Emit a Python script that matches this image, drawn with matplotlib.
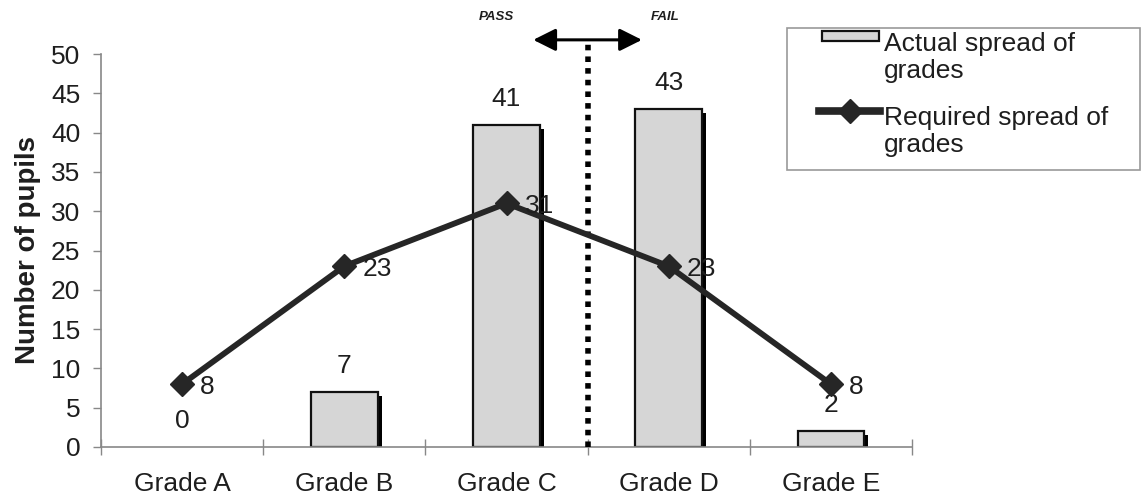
import matplotlib
matplotlib.use("Agg")
import matplotlib.pyplot as plt
import matplotlib.patheffects as pe
from matplotlib.patches import Rectangle
from matplotlib.lines import Line2D

plt.rcParams['font.family'] = ['Liberation Sans', 'DejaVu Sans']

# Data
grades = ["Grade A", "Grade B", "Grade C", "Grade D", "Grade E"]
actual = [0, 7, 41, 43, 2]
required = [8, 23, 31, 23, 8]
actual_label = "Actual spread of\ngrades"
required_label = "Required spread of\ngrades"
y_ticks = [0, 5, 10, 15, 20, 25, 30, 35, 40, 45, 50]

W, H = 1142, 499
fig = plt.figure(figsize=(W / 100, H / 100), dpi=100)
fig.patch.set_facecolor("white")

def fx(px):
    return px / W

def fy(py):
    return 1 - py / H

ax = fig.add_axes([fx(101), fy(447), fx(912) - fx(101), fy(54) - fy(447)])
ax.set_facecolor("white")

text_col = "#1e1e1e"
bar_col = "#d6d6d6"
line_col = "#262626"
fs = 19

x = list(range(len(grades)))

bars = ax.bar(x, actual, width=0.41, color=bar_col, edgecolor="#111111",
              linewidth=1.6, zorder=2,
              path_effects=[pe.SimplePatchShadow(offset=(3, -3), shadow_rgbFace="black",
                                                 alpha=1.0),
                            pe.Normal()])
ax.bar_label(bars, labels=[str(v) for v in actual], padding=10,
             fontsize=fs, color=text_col)
for b, v in zip(bars, actual):
    if v == 0:
        b.set_visible(False)

ax.plot(x, required, color=line_col, linewidth=4.2, marker="D", markersize=12,
        markerfacecolor=line_col, markeredgecolor=line_col, zorder=4)
for xi, v in zip(x, required):
    ax.annotate(str(v), (xi, v), xytext=(13, 0), textcoords="offset points",
                ha="left", va="center_baseline", fontsize=fs, color=text_col, zorder=5)

ax.set_xlim(-0.5, len(grades) - 0.5)
ax.set_ylim(0, 50)
ax.set_yticks(y_ticks)
ax.set_yticklabels([str(t) for t in y_ticks], fontsize=fs, color=text_col)
ax.tick_params(axis="y", direction="out", length=6, width=1, color="#888888", pad=9)

ax.set_xticks(x)
ax.set_xticklabels(grades, fontsize=fs, color=text_col)
ax.tick_params(axis="x", which="major", length=0, pad=18)
ax.set_xticks([i - 0.5 for i in range(len(grades) + 1)], minor=True)
ax.tick_params(axis="x", which="minor", direction="inout", length=12, width=1,
               color="#888888")

for side in ("top", "right"):
    ax.spines[side].set_visible(False)
for side in ("left", "bottom"):
    ax.spines[side].set_color("#888888")
    ax.spines[side].set_linewidth(1.2)

ax.set_ylabel("Number of pupils", fontsize=20, fontweight="bold", color=text_col,
              va="center")
ax.yaxis.set_label_coords((28 - 101) / (912 - 101), 0.5)

# Pass / fail divider with double arrow
divider_x = 2.5
top_y = 51.8
ax.plot([divider_x, divider_x], [0, top_y], color="black", linewidth=4,
        linestyle=(0, (1, 1.1)), dash_capstyle="butt", clip_on=False, zorder=3)
ax.annotate("", xy=(divider_x - 0.335, top_y), xytext=(divider_x + 0.335, top_y),
            arrowprops=dict(arrowstyle="<|-|>", color="black", lw=2.2,
                            mutation_scale=34, shrinkA=0, shrinkB=0),
            annotation_clip=False)
ax.text(1.94, 54.7, "PASS", fontsize=9.5, fontweight="bold", fontstyle="italic",
        ha="center", va="center", color=text_col, clip_on=False)
ax.text(2.98, 54.7, "FAIL", fontsize=9.5, fontweight="bold", fontstyle="italic",
        ha="center", va="center", color=text_col, clip_on=False)

# Legend box
fig.add_artist(Rectangle((fx(787), fy(170)), fx(1140) - fx(787), fy(28) - fy(170),
                         transform=fig.transFigure, facecolor="white",
                         edgecolor="#999999", linewidth=1.2))
fig.add_artist(Rectangle((fx(822), fy(41)), fx(879) - fx(822), fy(31) - fy(41),
                         transform=fig.transFigure, facecolor=bar_col,
                         edgecolor="#111111", linewidth=1.6))
fig.add_artist(Line2D([fx(819), fx(880)], [fy(111), fy(111)], transform=fig.transFigure,
                      color=line_col, linewidth=5.5))
fig.add_artist(Line2D([fx(850)], [fy(111)], transform=fig.transFigure,
                      color=line_col, marker="D", markersize=12, linestyle="none"))
fig.text(fx(884), fy(78), actual_label, fontsize=fs, color=text_col,
         ha="left", va="baseline", linespacing=1.14)
fig.text(fx(884), fy(152), required_label, fontsize=fs, color=text_col,
         ha="left", va="baseline", linespacing=1.14)

fig.savefig("out.png", dpi=100, facecolor="white")
